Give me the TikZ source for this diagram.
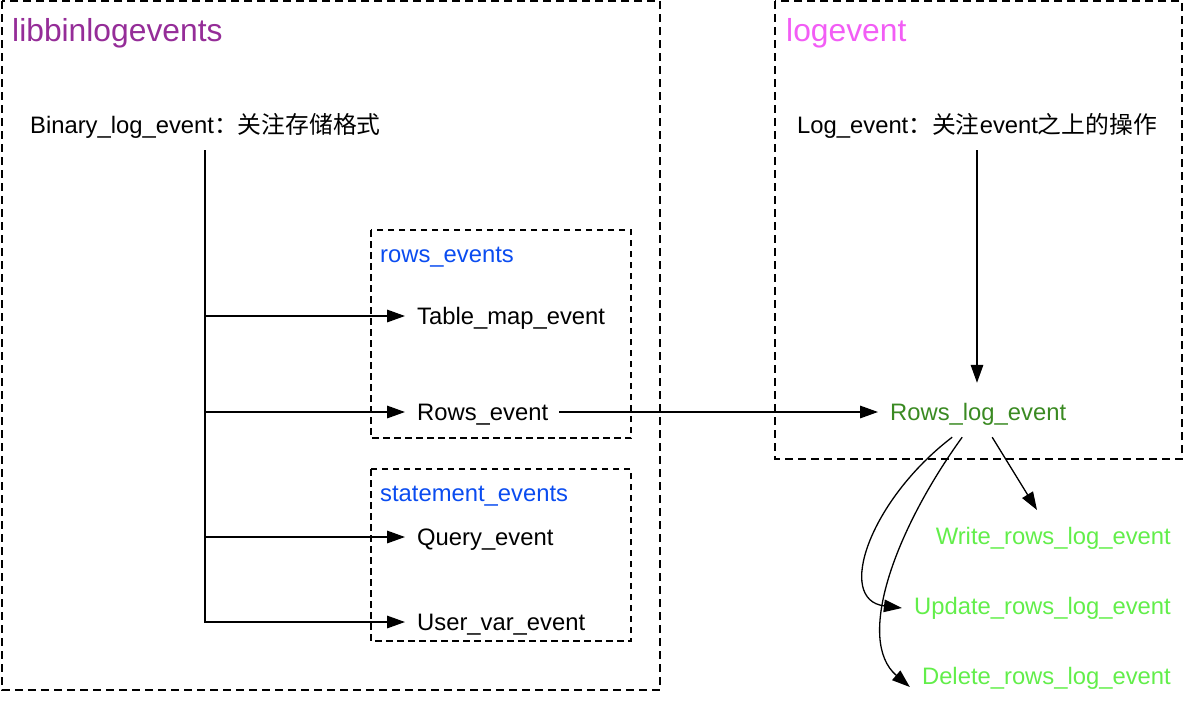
\documentclass[tikz,border=0pt]{standalone}
\usepackage{fontspec}
\setmainfont{Liberation Sans}
\newfontfamily\cjk{Noto Sans CJK SC}
\usetikzlibrary{arrows.meta,calc}
\definecolor{libpurple}{HTML}{952D98}
\definecolor{logpink}{HTML}{F25DF5}
\definecolor{subblue}{HTML}{0A4CF0}
\definecolor{dgreen}{HTML}{3A8A22}
\definecolor{lgreen}{HTML}{62EE4A}
\tikzset{
  outerbox/.style={draw=black, line width=1.8pt, dash pattern=on 8pt off 5pt},
  innerbox/.style={draw=black, line width=1.4pt, dash pattern=on 6.5pt off 4.5pt},
  txt/.style={inner sep=0pt, text height=16pt, text depth=0pt, font=\fontsize{23.8}{28}\selectfont},
  ttl/.style={inner sep=0pt, font=\fontsize{31.8}{36}\selectfont},
  arr/.style={line width=1.6pt, -{Triangle[length=18pt,width=12.5pt]}},
  carr/.style={line width=1.3pt, -{Triangle[length=18pt,width=12.5pt]}},
}
\begin{document}
\begin{tikzpicture}[x=1pt,y=-1pt]
\useasboundingbox (0,0) rectangle (1184,702);
% boxes
\draw[outerbox] (2,1) rectangle (660,690);
\draw[outerbox] (775,1) rectangle (1182,459);
\draw[innerbox] (371,230) rectangle (631,438);
\draw[innerbox] (371,469) rectangle (631,641);
% titles
\node[ttl, text=libpurple, anchor=base west] (lib) at (12,41) {libbinlogevents};
\node[ttl, text=logpink, anchor=base west] (logt) at (786,41) {logevent};
\node[txt, text=subblue, anchor=base west] (rows) at (380,262) {rows\_events};
\node[txt, text=subblue, anchor=base west] (stmt) at (380,501) {statement\_events};
% text nodes
\node[txt, anchor=base west] (bin) at (30,133) {Binary\_log\_event{\cjk ：关注存储格式}};
\node[txt, anchor=base west] (loge) at (797,133) {Log\_event{\cjk ：关注}event{\cjk 之上的操作}};
\node[txt, anchor=base west] (tme) at (417,324) {Table\_map\_event};
\node[txt, anchor=base west] (re) at (417,420) {Rows\_event};
\node[txt, anchor=base west] (qe) at (417,545) {Query\_event};
\node[txt, anchor=base west] (uve) at (417,630) {User\_var\_event};
\node[txt, text=dgreen, anchor=base west] (rle) at (890,420) {Rows\_log\_event};
\node[txt, text=lgreen, anchor=base east] (wrle) at (1171,544) {Write\_rows\_log\_event};
\node[txt, text=lgreen, anchor=base east] (urle) at (1171,614) {Update\_rows\_log\_event};
\node[txt, text=lgreen, anchor=base east] (drle) at (1171,684) {Delete\_rows\_log\_event};
% connectors
\coordinate (trunk) at (205,150);
\draw[arr, shorten >=12pt] (trunk) |- (tme.west);
\draw[arr, shorten >=12pt] (trunk) |- (re.west);
\draw[arr, shorten >=12pt] (trunk) |- (qe.west);
\draw[arr, shorten >=12pt] (trunk) |- (uve.west);
\draw[arr, shorten <=11pt, shorten >=12pt] (re.east) -- (rle.west);
\coordinate (ltop) at (977,150);
\draw[arr, shorten >=21pt] (ltop) -- (ltop |- rle.north);
\coordinate (s1) at ($(rle.south)+(14,17)$);
\coordinate (s2) at ($(rle.south)+(-26,17)$);
\coordinate (s3) at ($(rle.south)+(-16,17)$);
\coordinate (e1) at (1037,510);
\coordinate (e2) at ($(urle.west)+(-12,2)$);
\coordinate (e3) at ($(drle.west)+(-12,11)$);
\draw[carr] (s1) -- (e1);
\draw[carr] (s2) .. controls (870,500) and (835,600) .. (e2);
\draw[carr] (s3) .. controls (895,530) and (855,640) .. (e3);
\end{tikzpicture}
\end{document}
